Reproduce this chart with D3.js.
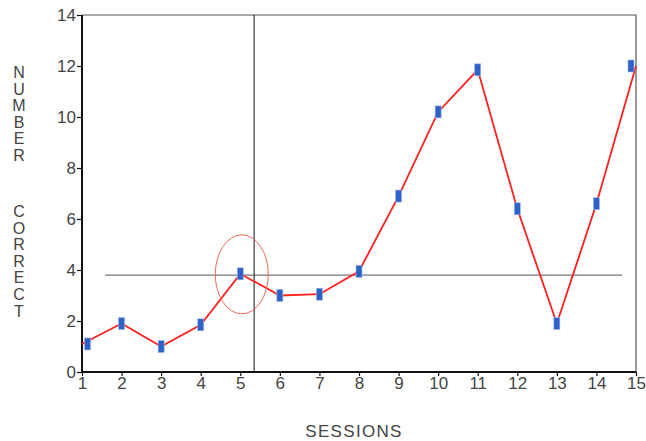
<!DOCTYPE html>
<html>
<head>
<meta charset="utf-8">
<script src="https://cdn.jsdelivr.net/npm/d3@7"></script>
<style>
  body { margin: 0; background: #fff; }
  text { font-family: "Liberation Sans", Arial, sans-serif; fill: #444; }
</style>
</head>
<body>
<div id="chart"></div>
<script>
// session numbers and number correct per session
var sessions = [1, 2, 3, 4, 5, 6, 7, 8, 9, 10, 11, 12, 13, 14, 15];
var correct = [1.1, 1.9, 1.0, 1.85, 3.85, 3.0, 3.05, 3.95, 6.9, 10.2, 11.85, 6.4, 1.9, 6.6, 12.0];
var yTicks = [0, 2, 4, 6, 8, 10, 12, 14];
var meanLevel = 3.8;        // horizontal reference line
var meanRange = [1.58, 14.65];
var phaseChange = 5.35;     // vertical phase line
var titleWords = ["NUMBER", "CORRECT"];

var width = 646, height = 441;
var margin = {top: 15, right: 10, bottom: 69, left: 82};

var svg = d3.select("#chart").append("svg")
	.attr("width", width)
	.attr("height", height);

var x = d3.scaleLinear().domain([1, 15]).range([margin.left, width - margin.right]);
var y = d3.scaleLinear().domain([0, 14]).range([height - margin.bottom, margin.top]);

// frame top and right
svg.append("path")
	.attr("d", "M" + x(1) + "," + y(14) + "H" + x(15) + "V" + y(0))
	.attr("fill", "none")
	.attr("stroke", "#555")
	.attr("stroke-width", 1.2);

// reference lines
svg.append("line")
	.attr("x1", x(meanRange[0])).attr("x2", x(meanRange[1]))
	.attr("y1", y(meanLevel)).attr("y2", y(meanLevel))
	.attr("stroke", "#777").attr("stroke-width", 1.3);

svg.append("line")
	.attr("x1", x(phaseChange)).attr("x2", x(phaseChange))
	.attr("y1", y(14)).attr("y2", y(0))
	.attr("stroke", "#111").attr("stroke-width", 1);

// axes
var yAxis = svg.append("g")
	.attr("transform", "translate(" + margin.left + ",0)")
	.call(d3.axisLeft(y).tickValues(yTicks).tickSize(5).tickPadding(1));
var xAxis = svg.append("g")
	.attr("transform", "translate(0," + y(0) + ")")
	.call(d3.axisBottom(x).tickValues(sessions).tickSize(4).tickPadding(1));

[xAxis, yAxis].forEach(function(a) {
	a.select(".domain").attr("stroke", "#111").attr("stroke-width", 2);
	a.selectAll(".tick line").attr("stroke", "#111").attr("stroke-width", 1.2);
	a.selectAll(".tick text")
		.style("font-size", "17px")
		.style("font-family", "Liberation Sans, Arial, sans-serif")
		.attr("fill", "#444");
});
xAxis.select(".domain").attr("d", "M" + x(1) + ",0H" + x(15));
yAxis.select(".domain").attr("d", "M0," + y(0) + "V" + y(14));

// data line
var line = d3.line()
	.x(function(d, i) { return x(sessions[i]); })
	.y(function(d) { return y(d); });

svg.append("path")
	.datum(correct)
	.attr("d", line)
	.attr("fill", "none")
	.attr("stroke", "#ff2020")
	.attr("stroke-width", 1.8);

// markers (kept inside the plot frame)
svg.selectAll("rect.mark")
	.data(correct)
	.enter()
	.append("rect")
	.attr("class", "mark")
	.attr("x", function(d, i) {
		var cx = Math.min(Math.max(x(sessions[i]), x(1) + 5.5), x(15) - 5);
		return cx - 3;
	})
	.attr("y", function(d) { return y(d) - 6; })
	.attr("width", 6)
	.attr("height", 12)
	.attr("fill", "#2f62c9")
	.attr("stroke", "#9fb8ea")
	.attr("stroke-width", 0.6);

// highlight ellipse around session 5
svg.append("ellipse")
	.attr("cx", x(5) + 1.5)
	.attr("cy", y(correct[4]) + 0.5)
	.attr("rx", 26.5)
	.attr("ry", 39.5)
	.attr("fill", "none")
	.attr("stroke", "#f06a5a")
	.attr("stroke-width", 1);

// axis titles
svg.append("text")
	.attr("x", 354)
	.attr("y", 437)
	.attr("text-anchor", "middle")
	.style("font-size", "17px")
	.style("letter-spacing", "1.3px")
	.text("SESSIONS");

var starts = [78, 217];
titleWords.forEach(function(w, k) {
	svg.append("g").selectAll("text")
		.data(w.split(""))
		.enter()
		.append("text")
		.attr("x", 19)
		.attr("y", function(d, i) { return starts[k] + i * 16.6; })
		.attr("text-anchor", "middle")
		.style("font-size", "16px")
		.text(function(d) { return d; });
});
</script>
</body>
</html>
